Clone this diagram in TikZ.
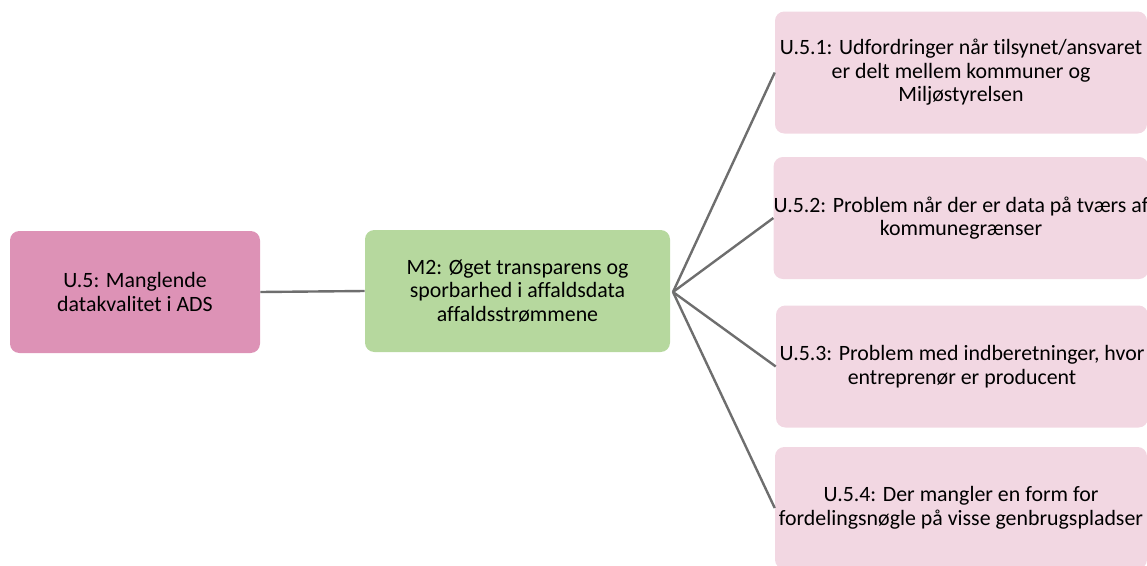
\documentclass[tikz,border=0pt]{standalone}
\usepackage{fontspec}
\setmainfont{Carlito}[Ligatures=CommonOff]
\usepackage{tikz}

\definecolor{rootpink}{RGB}{221,146,182}
\definecolor{midgreen}{RGB}{182,216,158}
\definecolor{leafpink}{RGB}{242,215,226}
\definecolor{linkgray}{RGB}{110,110,110}

\begin{document}
\begin{tikzpicture}[x=0.75pt, y=-0.75pt,
    box/.style={rounded corners=7pt, align=center, inner sep=0pt,
        minimum height=91.5pt, font=\fontsize{16.4}{17.6}\selectfont},
    link/.style={draw=linkgray, line width=1.8pt}]
                \clip (0,0) rectangle (1147,565);
                \node[box, fill=rootpink, minimum width=187.5pt](u5) at (135,292){U.5: Manglende\\datakvalitet i ADS};
                \node[box, fill=midgreen, minimum width=228.75pt](m2) at (517.5,291){M2: Øget transparens og\\sporbarhed i affaldsdata\\affaldsstrømmene};
                \node[box, fill=leafpink, minimum width=279pt](u51) at (961,72.5){U.5.1: Udfordringer når tilsynet/ansvaret\\er delt mellem kommuner og\\Miljøstyrelsen};
                \node[box, fill=leafpink, minimum width=279pt](u52) at (961,218){U.5.2: Problem når der er data på tværs af\\kommunegrænser};
                \node[box, fill=leafpink, minimum width=279pt](u53) at (962,366.5){U.5.3: Problem med indberetninger, hvor\\entreprenør er producent};
                \node[box, fill=leafpink, minimum width=279pt](u54) at (961,508){U.5.4: Der mangler en form for\\fordelingsnøgle på visse genbrugspladser};
                \path[link] (u5.east) -- (m2.west);
                \coordinate (hub) at (673,292);
                \path[link] (hub) -- (u51.west);
                \path[link] (hub) -- (u52.west);
                \path[link] (hub) -- (u53.west);
                \path[link] (hub) -- (u54.west);
                \end{tikzpicture}
\end{document}
